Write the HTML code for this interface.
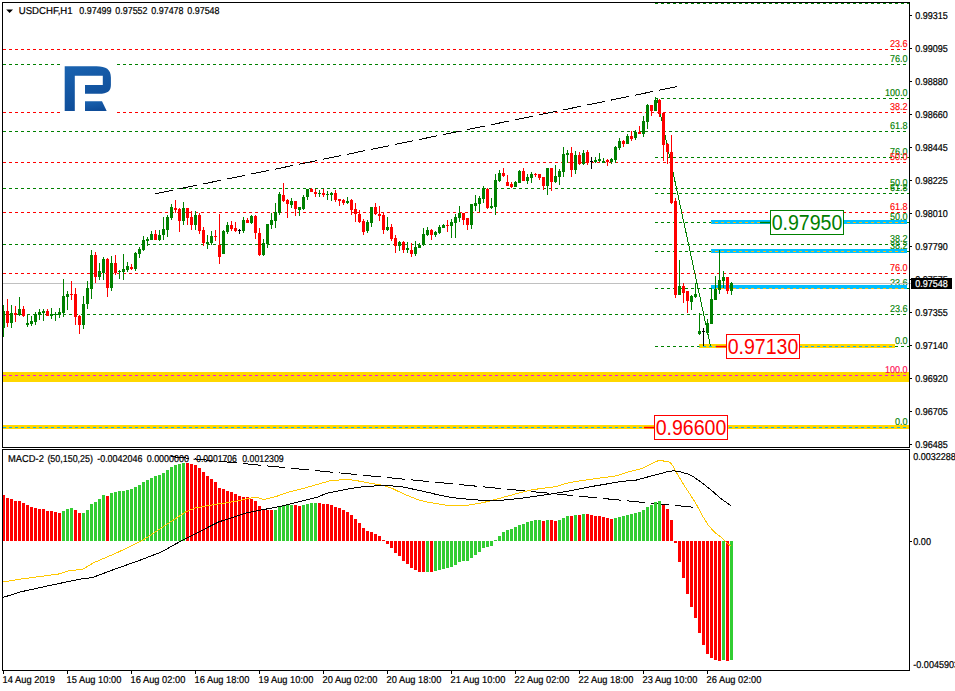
<!DOCTYPE html><html><head><meta charset="utf-8"><title>USDCHF H1</title>
<style>html,body{margin:0;padding:0;background:#fff}svg{display:block}text{font-family:"Liberation Sans",sans-serif}</style></head><body>
<svg width="955" height="691" viewBox="0 0 955 691">
<rect width="955" height="691" fill="#fff"/>
<line x1="3" y1="49.5" x2="909" y2="49.5" stroke="#ff0000" stroke-width="1" stroke-dasharray="3 3" stroke-dashoffset="0" shape-rendering="crispEdges"/>
<line x1="3" y1="112.5" x2="909" y2="112.5" stroke="#ff0000" stroke-width="1" stroke-dasharray="3 3" stroke-dashoffset="0" shape-rendering="crispEdges"/>
<line x1="3" y1="162.5" x2="909" y2="162.5" stroke="#ff0000" stroke-width="1" stroke-dasharray="3 3" stroke-dashoffset="0" shape-rendering="crispEdges"/>
<line x1="3" y1="212.5" x2="909" y2="212.5" stroke="#ff0000" stroke-width="1" stroke-dasharray="3 3" stroke-dashoffset="0" shape-rendering="crispEdges"/>
<line x1="3" y1="273.5" x2="909" y2="273.5" stroke="#ff0000" stroke-width="1" stroke-dasharray="3 3" stroke-dashoffset="0" shape-rendering="crispEdges"/>
<line x1="3" y1="64.5" x2="909" y2="64.5" stroke="#008000" stroke-width="1" stroke-dasharray="3 3" stroke-dashoffset="0" shape-rendering="crispEdges"/>
<line x1="3" y1="131.5" x2="909" y2="131.5" stroke="#008000" stroke-width="1" stroke-dasharray="3 3" stroke-dashoffset="0" shape-rendering="crispEdges"/>
<line x1="3" y1="188.5" x2="909" y2="188.5" stroke="#008000" stroke-width="1" stroke-dasharray="3 3" stroke-dashoffset="0" shape-rendering="crispEdges"/>
<line x1="3" y1="244.5" x2="909" y2="244.5" stroke="#008000" stroke-width="1" stroke-dasharray="3 3" stroke-dashoffset="0" shape-rendering="crispEdges"/>
<line x1="3" y1="314.5" x2="909" y2="314.5" stroke="#008000" stroke-width="1" stroke-dasharray="3 3" stroke-dashoffset="0" shape-rendering="crispEdges"/>
<line x1="655" y1="3.5" x2="909" y2="3.5" stroke="#008000" stroke-width="1" stroke-dasharray="3 3" stroke-dashoffset="0" shape-rendering="crispEdges"/>
<line x1="655" y1="98.5" x2="909" y2="98.5" stroke="#008000" stroke-width="1" stroke-dasharray="3 3" stroke-dashoffset="0" shape-rendering="crispEdges"/>
<line x1="655" y1="157.5" x2="909" y2="157.5" stroke="#008000" stroke-width="1" stroke-dasharray="3 3" stroke-dashoffset="0" shape-rendering="crispEdges"/>
<line x1="655" y1="193.5" x2="909" y2="193.5" stroke="#008000" stroke-width="1" stroke-dasharray="3 3" stroke-dashoffset="0" shape-rendering="crispEdges"/>
<line x1="655" y1="222.5" x2="909" y2="222.5" stroke="#008000" stroke-width="1" stroke-dasharray="3 3" stroke-dashoffset="0" shape-rendering="crispEdges"/>
<line x1="655" y1="251.5" x2="909" y2="251.5" stroke="#008000" stroke-width="1" stroke-dasharray="3 3" stroke-dashoffset="0" shape-rendering="crispEdges"/>
<line x1="655" y1="288.5" x2="909" y2="288.5" stroke="#008000" stroke-width="1" stroke-dasharray="3 3" stroke-dashoffset="0" shape-rendering="crispEdges"/>
<line x1="655" y1="346.5" x2="909" y2="346.5" stroke="#008000" stroke-width="1" stroke-dasharray="3 3" stroke-dashoffset="0" shape-rendering="crispEdges"/>
<text x="889.94" y="47" text-rendering="geometricPrecision" font-size="10" fill="#ff0000" stroke="#ff0000" stroke-width="0.14" textLength="17.66" lengthAdjust="spacingAndGlyphs" >23.6</text>
<text x="889.94" y="62" text-rendering="geometricPrecision" font-size="10" fill="#008000" stroke="#008000" stroke-width="0.14" textLength="17.66" lengthAdjust="spacingAndGlyphs" >76.0</text>
<text x="884.97" y="96" text-rendering="geometricPrecision" font-size="10" fill="#008000" stroke="#008000" stroke-width="0.14" textLength="22.63" lengthAdjust="spacingAndGlyphs" >100.0</text>
<text x="889.94" y="110" text-rendering="geometricPrecision" font-size="10" fill="#ff0000" stroke="#ff0000" stroke-width="0.14" textLength="17.66" lengthAdjust="spacingAndGlyphs" >38.2</text>
<text x="889.94" y="129" text-rendering="geometricPrecision" font-size="10" fill="#008000" stroke="#008000" stroke-width="0.14" textLength="17.66" lengthAdjust="spacingAndGlyphs" >61.8</text>
<text x="889.94" y="155" text-rendering="geometricPrecision" font-size="10" fill="#008000" stroke="#008000" stroke-width="0.14" textLength="17.66" lengthAdjust="spacingAndGlyphs" >76.0</text>
<text x="889.94" y="160" text-rendering="geometricPrecision" font-size="10" fill="#ff0000" stroke="#ff0000" stroke-width="0.14" textLength="17.66" lengthAdjust="spacingAndGlyphs" >50.0</text>
<text x="889.94" y="186" text-rendering="geometricPrecision" font-size="10" fill="#008000" stroke="#008000" stroke-width="0.14" textLength="17.66" lengthAdjust="spacingAndGlyphs" >50.0</text>
<text x="889.94" y="191" text-rendering="geometricPrecision" font-size="10" fill="#008000" stroke="#008000" stroke-width="0.14" textLength="17.66" lengthAdjust="spacingAndGlyphs" >61.8</text>
<text x="889.94" y="210" text-rendering="geometricPrecision" font-size="10" fill="#ff0000" stroke="#ff0000" stroke-width="0.14" textLength="17.66" lengthAdjust="spacingAndGlyphs" >61.8</text>
<text x="889.94" y="220" text-rendering="geometricPrecision" font-size="10" fill="#008000" stroke="#008000" stroke-width="0.14" textLength="17.66" lengthAdjust="spacingAndGlyphs" >50.0</text>
<text x="889.94" y="242" text-rendering="geometricPrecision" font-size="10" fill="#008000" stroke="#008000" stroke-width="0.14" textLength="17.66" lengthAdjust="spacingAndGlyphs" >38.2</text>
<text x="889.94" y="249" text-rendering="geometricPrecision" font-size="10" fill="#008000" stroke="#008000" stroke-width="0.14" textLength="17.66" lengthAdjust="spacingAndGlyphs" >38.2</text>
<text x="889.94" y="271" text-rendering="geometricPrecision" font-size="10" fill="#ff0000" stroke="#ff0000" stroke-width="0.14" textLength="17.66" lengthAdjust="spacingAndGlyphs" >76.0</text>
<text x="889.94" y="286" text-rendering="geometricPrecision" font-size="10" fill="#008000" stroke="#008000" stroke-width="0.14" textLength="17.66" lengthAdjust="spacingAndGlyphs" >23.6</text>
<text x="889.94" y="312" text-rendering="geometricPrecision" font-size="10" fill="#008000" stroke="#008000" stroke-width="0.14" textLength="17.66" lengthAdjust="spacingAndGlyphs" >23.6</text>
<text x="894.91" y="344" text-rendering="geometricPrecision" font-size="10" fill="#008000" stroke="#008000" stroke-width="0.14" textLength="12.69" lengthAdjust="spacingAndGlyphs" >0.0</text>
<text x="894.91" y="425" text-rendering="geometricPrecision" font-size="10" fill="#008000" stroke="#008000" stroke-width="0.14" textLength="12.69" lengthAdjust="spacingAndGlyphs" >0.0</text>
<rect x="3" y="372" width="906" height="10" fill="#ffd700" shape-rendering="crispEdges" />
<rect x="3" y="425" width="906" height="4" fill="#ffd700" shape-rendering="crispEdges" />
<rect x="699" y="344" width="196" height="4" fill="#ffd700" shape-rendering="crispEdges" />
<rect x="711" y="220" width="196" height="4" fill="#00bfff" shape-rendering="crispEdges" />
<rect x="711" y="249" width="196" height="4" fill="#00bfff" shape-rendering="crispEdges" />
<rect x="711" y="285" width="196" height="4" fill="#00bfff" shape-rendering="crispEdges" />
<line x1="3" y1="375.5" x2="907" y2="375.5" stroke="#f414e8" stroke-width="1" stroke-dasharray="3 3" stroke-dashoffset="0" shape-rendering="crispEdges"/>
<text x="884.97" y="373" text-rendering="geometricPrecision" font-size="10" fill="#ff0a50" stroke="#ff0a50" stroke-width="0.14" textLength="22.63" lengthAdjust="spacingAndGlyphs" >100.0</text>
<line x1="3" y1="427.5" x2="909" y2="427.5" stroke="#10b0f0" stroke-width="1" stroke-dasharray="3 3" stroke-dashoffset="0" shape-rendering="crispEdges"/>
<line x1="711" y1="222.5" x2="907" y2="222.5" stroke="#f2bc1c" stroke-width="1" stroke-dasharray="3 3" stroke-dashoffset="2" shape-rendering="crispEdges"/>
<line x1="711" y1="251.5" x2="907" y2="251.5" stroke="#f2bc1c" stroke-width="1" stroke-dasharray="3 3" stroke-dashoffset="2" shape-rendering="crispEdges"/>
<line x1="711" y1="288.5" x2="907" y2="288.5" stroke="#f2bc1c" stroke-width="1" stroke-dasharray="3 3" stroke-dashoffset="2" shape-rendering="crispEdges"/>
<line x1="699" y1="346.5" x2="895" y2="346.5" stroke="#10b0f0" stroke-width="1" stroke-dasharray="3 3" stroke-dashoffset="2" shape-rendering="crispEdges"/>
<rect x="3" y="283" width="908" height="1" fill="#c0c0c0" shape-rendering="crispEdges" />
<line x1="657" y1="98" x2="710.5" y2="346" stroke="#008000" stroke-width="1" shape-rendering="crispEdges"/>
<line x1="155.1" y1="193.8" x2="676.7" y2="86.6" stroke="#000" stroke-width="1" stroke-dasharray="18.6 5.9" shape-rendering="crispEdges"/>
<line x1="171.3" y1="456.6" x2="693" y2="507.2" stroke="#000" stroke-width="1" stroke-dasharray="18.2 5.91" shape-rendering="crispEdges"/>
<rect x="3" y="305" width="1" height="32" fill="#008000" shape-rendering="crispEdges" />
<rect x="2" y="311" width="3" height="17" fill="#008000" shape-rendering="crispEdges" />
<rect x="7" y="299" width="1" height="28" fill="#ff0000" shape-rendering="crispEdges" />
<rect x="6" y="311" width="3" height="12" fill="#ff0000" shape-rendering="crispEdges" />
<rect x="11" y="305" width="1" height="23" fill="#008000" shape-rendering="crispEdges" />
<rect x="10" y="313" width="3" height="10" fill="#008000" shape-rendering="crispEdges" />
<rect x="15" y="306" width="1" height="16" fill="#ff0000" shape-rendering="crispEdges" />
<rect x="14" y="313" width="3" height="2" fill="#ff0000" shape-rendering="crispEdges" />
<rect x="19" y="297" width="1" height="19" fill="#008000" shape-rendering="crispEdges" />
<rect x="18" y="309" width="3" height="6" fill="#008000" shape-rendering="crispEdges" />
<rect x="23" y="306" width="1" height="11" fill="#ff0000" shape-rendering="crispEdges" />
<rect x="22" y="309" width="3" height="7" fill="#ff0000" shape-rendering="crispEdges" />
<rect x="27" y="314" width="1" height="13" fill="#008000" shape-rendering="crispEdges" />
<rect x="26" y="323" width="3" height="2" fill="#008000" shape-rendering="crispEdges" />
<rect x="31" y="316" width="1" height="10" fill="#008000" shape-rendering="crispEdges" />
<rect x="30" y="321" width="3" height="3" fill="#008000" shape-rendering="crispEdges" />
<rect x="35" y="312" width="1" height="13" fill="#008000" shape-rendering="crispEdges" />
<rect x="34" y="314" width="3" height="8" fill="#008000" shape-rendering="crispEdges" />
<rect x="39" y="309" width="1" height="11" fill="#008000" shape-rendering="crispEdges" />
<rect x="38" y="312" width="3" height="3" fill="#008000" shape-rendering="crispEdges" />
<rect x="43" y="309" width="1" height="12" fill="#008000" shape-rendering="crispEdges" />
<rect x="42" y="311" width="3" height="2" fill="#008000" shape-rendering="crispEdges" />
<rect x="47" y="309" width="1" height="7" fill="#ff0000" shape-rendering="crispEdges" />
<rect x="46" y="311" width="3" height="5" fill="#ff0000" shape-rendering="crispEdges" />
<rect x="51" y="308" width="1" height="11" fill="#008000" shape-rendering="crispEdges" />
<rect x="50" y="314" width="3" height="2" fill="#008000" shape-rendering="crispEdges" />
<rect x="55" y="312" width="1" height="9" fill="#008000" shape-rendering="crispEdges" />
<rect x="54" y="314" width="3" height="1" fill="#008000" shape-rendering="crispEdges" />
<rect x="59" y="308" width="1" height="10" fill="#008000" shape-rendering="crispEdges" />
<rect x="58" y="312" width="3" height="3" fill="#008000" shape-rendering="crispEdges" />
<rect x="63" y="279" width="1" height="38" fill="#008000" shape-rendering="crispEdges" />
<rect x="62" y="296" width="3" height="17" fill="#008000" shape-rendering="crispEdges" />
<rect x="67" y="291" width="1" height="19" fill="#008000" shape-rendering="crispEdges" />
<rect x="66" y="294" width="3" height="3" fill="#008000" shape-rendering="crispEdges" />
<rect x="71" y="281" width="1" height="19" fill="#ff0000" shape-rendering="crispEdges" />
<rect x="70" y="294" width="3" height="1" fill="#ff0000" shape-rendering="crispEdges" />
<rect x="75" y="288" width="1" height="37" fill="#ff0000" shape-rendering="crispEdges" />
<rect x="74" y="294" width="3" height="23" fill="#ff0000" shape-rendering="crispEdges" />
<rect x="79" y="315" width="1" height="19" fill="#ff0000" shape-rendering="crispEdges" />
<rect x="78" y="316" width="3" height="9" fill="#ff0000" shape-rendering="crispEdges" />
<rect x="83" y="296" width="1" height="33" fill="#008000" shape-rendering="crispEdges" />
<rect x="82" y="304" width="3" height="21" fill="#008000" shape-rendering="crispEdges" />
<rect x="87" y="281" width="1" height="28" fill="#008000" shape-rendering="crispEdges" />
<rect x="86" y="288" width="3" height="16" fill="#008000" shape-rendering="crispEdges" />
<rect x="91" y="250" width="1" height="49" fill="#008000" shape-rendering="crispEdges" />
<rect x="90" y="255" width="3" height="34" fill="#008000" shape-rendering="crispEdges" />
<rect x="95" y="252" width="1" height="31" fill="#ff0000" shape-rendering="crispEdges" />
<rect x="94" y="255" width="3" height="22" fill="#ff0000" shape-rendering="crispEdges" />
<rect x="99" y="263" width="1" height="17" fill="#008000" shape-rendering="crispEdges" />
<rect x="98" y="271" width="3" height="6" fill="#008000" shape-rendering="crispEdges" />
<rect x="103" y="257" width="1" height="23" fill="#008000" shape-rendering="crispEdges" />
<rect x="102" y="259" width="3" height="14" fill="#008000" shape-rendering="crispEdges" />
<rect x="107" y="258" width="1" height="39" fill="#ff0000" shape-rendering="crispEdges" />
<rect x="106" y="259" width="3" height="29" fill="#ff0000" shape-rendering="crispEdges" />
<rect x="111" y="256" width="1" height="35" fill="#008000" shape-rendering="crispEdges" />
<rect x="110" y="263" width="3" height="25" fill="#008000" shape-rendering="crispEdges" />
<rect x="115" y="255" width="1" height="20" fill="#ff0000" shape-rendering="crispEdges" />
<rect x="114" y="263" width="3" height="10" fill="#ff0000" shape-rendering="crispEdges" />
<rect x="119" y="270" width="1" height="9" fill="#008000" shape-rendering="crispEdges" />
<rect x="118" y="271" width="3" height="1" fill="#008000" shape-rendering="crispEdges" />
<rect x="123" y="254" width="1" height="26" fill="#008000" shape-rendering="crispEdges" />
<rect x="122" y="269" width="3" height="3" fill="#008000" shape-rendering="crispEdges" />
<rect x="127" y="262" width="1" height="10" fill="#008000" shape-rendering="crispEdges" />
<rect x="126" y="266" width="3" height="4" fill="#008000" shape-rendering="crispEdges" />
<rect x="131" y="264" width="1" height="6" fill="#ff0000" shape-rendering="crispEdges" />
<rect x="130" y="267" width="3" height="2" fill="#ff0000" shape-rendering="crispEdges" />
<rect x="135" y="252" width="1" height="19" fill="#008000" shape-rendering="crispEdges" />
<rect x="134" y="253" width="3" height="16" fill="#008000" shape-rendering="crispEdges" />
<rect x="139" y="247" width="1" height="11" fill="#008000" shape-rendering="crispEdges" />
<rect x="138" y="249" width="3" height="5" fill="#008000" shape-rendering="crispEdges" />
<rect x="143" y="236" width="1" height="15" fill="#008000" shape-rendering="crispEdges" />
<rect x="142" y="240" width="3" height="10" fill="#008000" shape-rendering="crispEdges" />
<rect x="147" y="237" width="1" height="9" fill="#008000" shape-rendering="crispEdges" />
<rect x="146" y="239" width="3" height="2" fill="#008000" shape-rendering="crispEdges" />
<rect x="151" y="231" width="1" height="9" fill="#008000" shape-rendering="crispEdges" />
<rect x="150" y="234" width="3" height="6" fill="#008000" shape-rendering="crispEdges" />
<rect x="155" y="230" width="1" height="10" fill="#ff0000" shape-rendering="crispEdges" />
<rect x="154" y="234" width="3" height="6" fill="#ff0000" shape-rendering="crispEdges" />
<rect x="159" y="230" width="1" height="11" fill="#008000" shape-rendering="crispEdges" />
<rect x="158" y="235" width="3" height="5" fill="#008000" shape-rendering="crispEdges" />
<rect x="163" y="217" width="1" height="23" fill="#008000" shape-rendering="crispEdges" />
<rect x="162" y="229" width="3" height="6" fill="#008000" shape-rendering="crispEdges" />
<rect x="167" y="215" width="1" height="22" fill="#008000" shape-rendering="crispEdges" />
<rect x="166" y="217" width="3" height="13" fill="#008000" shape-rendering="crispEdges" />
<rect x="171" y="204" width="1" height="16" fill="#008000" shape-rendering="crispEdges" />
<rect x="170" y="207" width="3" height="11" fill="#008000" shape-rendering="crispEdges" />
<rect x="175" y="200" width="1" height="13" fill="#ff0000" shape-rendering="crispEdges" />
<rect x="174" y="208" width="3" height="2" fill="#ff0000" shape-rendering="crispEdges" />
<rect x="179" y="208" width="1" height="24" fill="#ff0000" shape-rendering="crispEdges" />
<rect x="178" y="209" width="3" height="12" fill="#ff0000" shape-rendering="crispEdges" />
<rect x="183" y="202" width="1" height="23" fill="#008000" shape-rendering="crispEdges" />
<rect x="182" y="208" width="3" height="13" fill="#008000" shape-rendering="crispEdges" />
<rect x="187" y="208" width="1" height="17" fill="#ff0000" shape-rendering="crispEdges" />
<rect x="186" y="208" width="3" height="10" fill="#ff0000" shape-rendering="crispEdges" />
<rect x="191" y="211" width="1" height="19" fill="#ff0000" shape-rendering="crispEdges" />
<rect x="190" y="217" width="3" height="8" fill="#ff0000" shape-rendering="crispEdges" />
<rect x="195" y="211" width="1" height="19" fill="#008000" shape-rendering="crispEdges" />
<rect x="194" y="215" width="3" height="10" fill="#008000" shape-rendering="crispEdges" />
<rect x="199" y="213" width="1" height="21" fill="#ff0000" shape-rendering="crispEdges" />
<rect x="198" y="215" width="3" height="16" fill="#ff0000" shape-rendering="crispEdges" />
<rect x="203" y="227" width="1" height="19" fill="#ff0000" shape-rendering="crispEdges" />
<rect x="202" y="230" width="3" height="13" fill="#ff0000" shape-rendering="crispEdges" />
<rect x="207" y="235" width="1" height="14" fill="#008000" shape-rendering="crispEdges" />
<rect x="206" y="242" width="3" height="2" fill="#008000" shape-rendering="crispEdges" />
<rect x="211" y="231" width="1" height="14" fill="#008000" shape-rendering="crispEdges" />
<rect x="210" y="236" width="3" height="7" fill="#008000" shape-rendering="crispEdges" />
<rect x="215" y="230" width="1" height="11" fill="#ff0000" shape-rendering="crispEdges" />
<rect x="214" y="236" width="3" height="1" fill="#ff0000" shape-rendering="crispEdges" />
<rect x="219" y="214" width="1" height="50" fill="#ff0000" shape-rendering="crispEdges" />
<rect x="218" y="245" width="3" height="12" fill="#ff0000" shape-rendering="crispEdges" />
<rect x="223" y="230" width="1" height="24" fill="#008000" shape-rendering="crispEdges" />
<rect x="222" y="231" width="3" height="23" fill="#008000" shape-rendering="crispEdges" />
<rect x="227" y="222" width="1" height="12" fill="#008000" shape-rendering="crispEdges" />
<rect x="226" y="225" width="3" height="7" fill="#008000" shape-rendering="crispEdges" />
<rect x="231" y="221" width="1" height="10" fill="#ff0000" shape-rendering="crispEdges" />
<rect x="230" y="225" width="3" height="4" fill="#ff0000" shape-rendering="crispEdges" />
<rect x="235" y="222" width="1" height="10" fill="#ff0000" shape-rendering="crispEdges" />
<rect x="234" y="228" width="3" height="3" fill="#ff0000" shape-rendering="crispEdges" />
<rect x="239" y="229" width="1" height="5" fill="#000" shape-rendering="crispEdges" />
<rect x="238" y="230" width="3" height="1" fill="#000" shape-rendering="crispEdges" />
<rect x="243" y="217" width="1" height="16" fill="#008000" shape-rendering="crispEdges" />
<rect x="242" y="220" width="3" height="11" fill="#008000" shape-rendering="crispEdges" />
<rect x="247" y="218" width="1" height="5" fill="#ff0000" shape-rendering="crispEdges" />
<rect x="246" y="220" width="3" height="3" fill="#ff0000" shape-rendering="crispEdges" />
<rect x="251" y="215" width="1" height="9" fill="#008000" shape-rendering="crispEdges" />
<rect x="250" y="216" width="3" height="7" fill="#008000" shape-rendering="crispEdges" />
<rect x="255" y="215" width="1" height="24" fill="#ff0000" shape-rendering="crispEdges" />
<rect x="254" y="216" width="3" height="17" fill="#ff0000" shape-rendering="crispEdges" />
<rect x="259" y="228" width="1" height="28" fill="#ff0000" shape-rendering="crispEdges" />
<rect x="258" y="233" width="3" height="22" fill="#ff0000" shape-rendering="crispEdges" />
<rect x="263" y="239" width="1" height="17" fill="#008000" shape-rendering="crispEdges" />
<rect x="262" y="243" width="3" height="12" fill="#008000" shape-rendering="crispEdges" />
<rect x="267" y="224" width="1" height="24" fill="#008000" shape-rendering="crispEdges" />
<rect x="266" y="224" width="3" height="20" fill="#008000" shape-rendering="crispEdges" />
<rect x="271" y="213" width="1" height="16" fill="#008000" shape-rendering="crispEdges" />
<rect x="270" y="220" width="3" height="5" fill="#008000" shape-rendering="crispEdges" />
<rect x="275" y="203" width="1" height="25" fill="#008000" shape-rendering="crispEdges" />
<rect x="274" y="212" width="3" height="9" fill="#008000" shape-rendering="crispEdges" />
<rect x="279" y="192" width="1" height="23" fill="#008000" shape-rendering="crispEdges" />
<rect x="278" y="194" width="3" height="19" fill="#008000" shape-rendering="crispEdges" />
<rect x="283" y="183" width="1" height="19" fill="#ff0000" shape-rendering="crispEdges" />
<rect x="282" y="195" width="3" height="6" fill="#ff0000" shape-rendering="crispEdges" />
<rect x="287" y="199" width="1" height="19" fill="#ff0000" shape-rendering="crispEdges" />
<rect x="286" y="200" width="3" height="4" fill="#ff0000" shape-rendering="crispEdges" />
<rect x="291" y="198" width="1" height="10" fill="#008000" shape-rendering="crispEdges" />
<rect x="290" y="201" width="3" height="4" fill="#008000" shape-rendering="crispEdges" />
<rect x="295" y="201" width="1" height="15" fill="#ff0000" shape-rendering="crispEdges" />
<rect x="294" y="201" width="3" height="8" fill="#ff0000" shape-rendering="crispEdges" />
<rect x="299" y="207" width="1" height="9" fill="#008000" shape-rendering="crispEdges" />
<rect x="298" y="207" width="3" height="3" fill="#008000" shape-rendering="crispEdges" />
<rect x="303" y="195" width="1" height="15" fill="#008000" shape-rendering="crispEdges" />
<rect x="302" y="197" width="3" height="12" fill="#008000" shape-rendering="crispEdges" />
<rect x="307" y="189" width="1" height="11" fill="#008000" shape-rendering="crispEdges" />
<rect x="306" y="189" width="3" height="8" fill="#008000" shape-rendering="crispEdges" />
<rect x="311" y="188" width="1" height="4" fill="#ff0000" shape-rendering="crispEdges" />
<rect x="310" y="189" width="3" height="3" fill="#ff0000" shape-rendering="crispEdges" />
<rect x="315" y="189" width="1" height="8" fill="#ff0000" shape-rendering="crispEdges" />
<rect x="314" y="192" width="3" height="2" fill="#ff0000" shape-rendering="crispEdges" />
<rect x="319" y="190" width="1" height="7" fill="#008000" shape-rendering="crispEdges" />
<rect x="318" y="193" width="3" height="1" fill="#008000" shape-rendering="crispEdges" />
<rect x="323" y="189" width="1" height="8" fill="#ff0000" shape-rendering="crispEdges" />
<rect x="322" y="193" width="3" height="2" fill="#ff0000" shape-rendering="crispEdges" />
<rect x="327" y="191" width="1" height="9" fill="#008000" shape-rendering="crispEdges" />
<rect x="326" y="194" width="3" height="1" fill="#008000" shape-rendering="crispEdges" />
<rect x="331" y="192" width="1" height="9" fill="#008000" shape-rendering="crispEdges" />
<rect x="330" y="193" width="3" height="2" fill="#008000" shape-rendering="crispEdges" />
<rect x="335" y="190" width="1" height="12" fill="#ff0000" shape-rendering="crispEdges" />
<rect x="334" y="193" width="3" height="7" fill="#ff0000" shape-rendering="crispEdges" />
<rect x="339" y="199" width="1" height="7" fill="#ff0000" shape-rendering="crispEdges" />
<rect x="338" y="199" width="3" height="2" fill="#ff0000" shape-rendering="crispEdges" />
<rect x="343" y="199" width="1" height="6" fill="#ff0000" shape-rendering="crispEdges" />
<rect x="342" y="200" width="3" height="3" fill="#ff0000" shape-rendering="crispEdges" />
<rect x="347" y="197" width="1" height="7" fill="#008000" shape-rendering="crispEdges" />
<rect x="346" y="201" width="3" height="2" fill="#008000" shape-rendering="crispEdges" />
<rect x="351" y="199" width="1" height="16" fill="#ff0000" shape-rendering="crispEdges" />
<rect x="350" y="200" width="3" height="10" fill="#ff0000" shape-rendering="crispEdges" />
<rect x="355" y="203" width="1" height="19" fill="#ff0000" shape-rendering="crispEdges" />
<rect x="354" y="209" width="3" height="5" fill="#ff0000" shape-rendering="crispEdges" />
<rect x="359" y="210" width="1" height="13" fill="#ff0000" shape-rendering="crispEdges" />
<rect x="358" y="214" width="3" height="8" fill="#ff0000" shape-rendering="crispEdges" />
<rect x="363" y="219" width="1" height="16" fill="#ff0000" shape-rendering="crispEdges" />
<rect x="362" y="221" width="3" height="11" fill="#ff0000" shape-rendering="crispEdges" />
<rect x="367" y="220" width="1" height="13" fill="#008000" shape-rendering="crispEdges" />
<rect x="366" y="222" width="3" height="9" fill="#008000" shape-rendering="crispEdges" />
<rect x="371" y="207" width="1" height="20" fill="#008000" shape-rendering="crispEdges" />
<rect x="370" y="207" width="3" height="16" fill="#008000" shape-rendering="crispEdges" />
<rect x="375" y="203" width="1" height="12" fill="#ff0000" shape-rendering="crispEdges" />
<rect x="374" y="207" width="3" height="7" fill="#ff0000" shape-rendering="crispEdges" />
<rect x="379" y="206" width="1" height="15" fill="#ff0000" shape-rendering="crispEdges" />
<rect x="378" y="214" width="3" height="2" fill="#ff0000" shape-rendering="crispEdges" />
<rect x="383" y="212" width="1" height="22" fill="#ff0000" shape-rendering="crispEdges" />
<rect x="382" y="215" width="3" height="15" fill="#ff0000" shape-rendering="crispEdges" />
<rect x="387" y="217" width="1" height="14" fill="#008000" shape-rendering="crispEdges" />
<rect x="386" y="227" width="3" height="3" fill="#008000" shape-rendering="crispEdges" />
<rect x="391" y="224" width="1" height="17" fill="#ff0000" shape-rendering="crispEdges" />
<rect x="390" y="227" width="3" height="12" fill="#ff0000" shape-rendering="crispEdges" />
<rect x="395" y="235" width="1" height="18" fill="#ff0000" shape-rendering="crispEdges" />
<rect x="394" y="238" width="3" height="8" fill="#ff0000" shape-rendering="crispEdges" />
<rect x="399" y="241" width="1" height="10" fill="#008000" shape-rendering="crispEdges" />
<rect x="398" y="242" width="3" height="4" fill="#008000" shape-rendering="crispEdges" />
<rect x="403" y="241" width="1" height="12" fill="#ff0000" shape-rendering="crispEdges" />
<rect x="402" y="242" width="3" height="8" fill="#ff0000" shape-rendering="crispEdges" />
<rect x="407" y="242" width="1" height="11" fill="#008000" shape-rendering="crispEdges" />
<rect x="406" y="248" width="3" height="2" fill="#008000" shape-rendering="crispEdges" />
<rect x="411" y="243" width="1" height="14" fill="#ff0000" shape-rendering="crispEdges" />
<rect x="410" y="250" width="3" height="4" fill="#ff0000" shape-rendering="crispEdges" />
<rect x="415" y="241" width="1" height="15" fill="#008000" shape-rendering="crispEdges" />
<rect x="414" y="247" width="3" height="7" fill="#008000" shape-rendering="crispEdges" />
<rect x="419" y="243" width="1" height="5" fill="#008000" shape-rendering="crispEdges" />
<rect x="418" y="245" width="3" height="3" fill="#008000" shape-rendering="crispEdges" />
<rect x="423" y="228" width="1" height="18" fill="#008000" shape-rendering="crispEdges" />
<rect x="422" y="234" width="3" height="11" fill="#008000" shape-rendering="crispEdges" />
<rect x="427" y="227" width="1" height="9" fill="#008000" shape-rendering="crispEdges" />
<rect x="426" y="230" width="3" height="5" fill="#008000" shape-rendering="crispEdges" />
<rect x="431" y="229" width="1" height="11" fill="#ff0000" shape-rendering="crispEdges" />
<rect x="430" y="230" width="3" height="5" fill="#ff0000" shape-rendering="crispEdges" />
<rect x="435" y="231" width="1" height="6" fill="#008000" shape-rendering="crispEdges" />
<rect x="434" y="232" width="3" height="3" fill="#008000" shape-rendering="crispEdges" />
<rect x="439" y="225" width="1" height="9" fill="#008000" shape-rendering="crispEdges" />
<rect x="438" y="227" width="3" height="6" fill="#008000" shape-rendering="crispEdges" />
<rect x="443" y="224" width="1" height="4" fill="#008000" shape-rendering="crispEdges" />
<rect x="442" y="225" width="3" height="3" fill="#008000" shape-rendering="crispEdges" />
<rect x="447" y="220" width="1" height="12" fill="#ff0000" shape-rendering="crispEdges" />
<rect x="446" y="225" width="3" height="1" fill="#ff0000" shape-rendering="crispEdges" />
<rect x="451" y="219" width="1" height="19" fill="#008000" shape-rendering="crispEdges" />
<rect x="450" y="222" width="3" height="4" fill="#008000" shape-rendering="crispEdges" />
<rect x="455" y="214" width="1" height="24" fill="#008000" shape-rendering="crispEdges" />
<rect x="454" y="217" width="3" height="6" fill="#008000" shape-rendering="crispEdges" />
<rect x="459" y="206" width="1" height="16" fill="#008000" shape-rendering="crispEdges" />
<rect x="458" y="213" width="3" height="5" fill="#008000" shape-rendering="crispEdges" />
<rect x="463" y="213" width="1" height="12" fill="#ff0000" shape-rendering="crispEdges" />
<rect x="462" y="213" width="3" height="7" fill="#ff0000" shape-rendering="crispEdges" />
<rect x="467" y="218" width="1" height="12" fill="#ff0000" shape-rendering="crispEdges" />
<rect x="466" y="218" width="3" height="7" fill="#ff0000" shape-rendering="crispEdges" />
<rect x="471" y="204" width="1" height="25" fill="#008000" shape-rendering="crispEdges" />
<rect x="470" y="204" width="3" height="21" fill="#008000" shape-rendering="crispEdges" />
<rect x="475" y="195" width="1" height="16" fill="#008000" shape-rendering="crispEdges" />
<rect x="474" y="203" width="3" height="3" fill="#008000" shape-rendering="crispEdges" />
<rect x="479" y="196" width="1" height="16" fill="#008000" shape-rendering="crispEdges" />
<rect x="478" y="198" width="3" height="6" fill="#008000" shape-rendering="crispEdges" />
<rect x="483" y="186" width="1" height="17" fill="#008000" shape-rendering="crispEdges" />
<rect x="482" y="188" width="3" height="11" fill="#008000" shape-rendering="crispEdges" />
<rect x="487" y="188" width="1" height="21" fill="#ff0000" shape-rendering="crispEdges" />
<rect x="486" y="189" width="3" height="19" fill="#ff0000" shape-rendering="crispEdges" />
<rect x="491" y="198" width="1" height="11" fill="#008000" shape-rendering="crispEdges" />
<rect x="490" y="206" width="3" height="2" fill="#008000" shape-rendering="crispEdges" />
<rect x="495" y="174" width="1" height="41" fill="#008000" shape-rendering="crispEdges" />
<rect x="494" y="180" width="3" height="27" fill="#008000" shape-rendering="crispEdges" />
<rect x="499" y="170" width="1" height="12" fill="#008000" shape-rendering="crispEdges" />
<rect x="498" y="173" width="3" height="8" fill="#008000" shape-rendering="crispEdges" />
<rect x="503" y="168" width="1" height="9" fill="#ff0000" shape-rendering="crispEdges" />
<rect x="502" y="173" width="3" height="3" fill="#ff0000" shape-rendering="crispEdges" />
<rect x="507" y="175" width="1" height="11" fill="#ff0000" shape-rendering="crispEdges" />
<rect x="506" y="182" width="3" height="4" fill="#ff0000" shape-rendering="crispEdges" />
<rect x="511" y="182" width="1" height="6" fill="#ff0000" shape-rendering="crispEdges" />
<rect x="510" y="184" width="3" height="3" fill="#ff0000" shape-rendering="crispEdges" />
<rect x="515" y="181" width="1" height="6" fill="#008000" shape-rendering="crispEdges" />
<rect x="514" y="182" width="3" height="5" fill="#008000" shape-rendering="crispEdges" />
<rect x="519" y="170" width="1" height="13" fill="#008000" shape-rendering="crispEdges" />
<rect x="518" y="171" width="3" height="12" fill="#008000" shape-rendering="crispEdges" />
<rect x="523" y="168" width="1" height="13" fill="#ff0000" shape-rendering="crispEdges" />
<rect x="522" y="171" width="3" height="10" fill="#ff0000" shape-rendering="crispEdges" />
<rect x="527" y="174" width="1" height="10" fill="#008000" shape-rendering="crispEdges" />
<rect x="526" y="177" width="3" height="4" fill="#008000" shape-rendering="crispEdges" />
<rect x="531" y="172" width="1" height="11" fill="#008000" shape-rendering="crispEdges" />
<rect x="530" y="174" width="3" height="4" fill="#008000" shape-rendering="crispEdges" />
<rect x="535" y="173" width="1" height="4" fill="#ff0000" shape-rendering="crispEdges" />
<rect x="534" y="174" width="3" height="1" fill="#ff0000" shape-rendering="crispEdges" />
<rect x="539" y="174" width="1" height="6" fill="#ff0000" shape-rendering="crispEdges" />
<rect x="538" y="174" width="3" height="4" fill="#ff0000" shape-rendering="crispEdges" />
<rect x="543" y="177" width="1" height="13" fill="#ff0000" shape-rendering="crispEdges" />
<rect x="542" y="177" width="3" height="9" fill="#ff0000" shape-rendering="crispEdges" />
<rect x="547" y="168" width="1" height="27" fill="#008000" shape-rendering="crispEdges" />
<rect x="546" y="168" width="3" height="18" fill="#008000" shape-rendering="crispEdges" />
<rect x="551" y="168" width="1" height="23" fill="#ff0000" shape-rendering="crispEdges" />
<rect x="550" y="168" width="3" height="14" fill="#ff0000" shape-rendering="crispEdges" />
<rect x="555" y="165" width="1" height="18" fill="#008000" shape-rendering="crispEdges" />
<rect x="554" y="176" width="3" height="6" fill="#008000" shape-rendering="crispEdges" />
<rect x="559" y="169" width="1" height="16" fill="#008000" shape-rendering="crispEdges" />
<rect x="558" y="171" width="3" height="6" fill="#008000" shape-rendering="crispEdges" />
<rect x="563" y="147" width="1" height="30" fill="#008000" shape-rendering="crispEdges" />
<rect x="562" y="154" width="3" height="18" fill="#008000" shape-rendering="crispEdges" />
<rect x="567" y="150" width="1" height="13" fill="#008000" shape-rendering="crispEdges" />
<rect x="566" y="153" width="3" height="2" fill="#008000" shape-rendering="crispEdges" />
<rect x="571" y="147" width="1" height="30" fill="#ff0000" shape-rendering="crispEdges" />
<rect x="570" y="153" width="3" height="17" fill="#ff0000" shape-rendering="crispEdges" />
<rect x="575" y="151" width="1" height="23" fill="#008000" shape-rendering="crispEdges" />
<rect x="574" y="155" width="3" height="15" fill="#008000" shape-rendering="crispEdges" />
<rect x="579" y="152" width="1" height="13" fill="#ff0000" shape-rendering="crispEdges" />
<rect x="578" y="155" width="3" height="9" fill="#ff0000" shape-rendering="crispEdges" />
<rect x="583" y="150" width="1" height="15" fill="#008000" shape-rendering="crispEdges" />
<rect x="582" y="153" width="3" height="11" fill="#008000" shape-rendering="crispEdges" />
<rect x="587" y="150" width="1" height="15" fill="#ff0000" shape-rendering="crispEdges" />
<rect x="586" y="152" width="3" height="11" fill="#ff0000" shape-rendering="crispEdges" />
<rect x="591" y="157" width="1" height="12" fill="#000" shape-rendering="crispEdges" />
<rect x="590" y="161" width="3" height="1" fill="#000" shape-rendering="crispEdges" />
<rect x="595" y="157" width="1" height="6" fill="#008000" shape-rendering="crispEdges" />
<rect x="594" y="160" width="3" height="2" fill="#008000" shape-rendering="crispEdges" />
<rect x="599" y="153" width="1" height="9" fill="#008000" shape-rendering="crispEdges" />
<rect x="598" y="159" width="3" height="2" fill="#008000" shape-rendering="crispEdges" />
<rect x="603" y="158" width="1" height="5" fill="#008000" shape-rendering="crispEdges" />
<rect x="602" y="161" width="3" height="2" fill="#008000" shape-rendering="crispEdges" />
<rect x="607" y="159" width="1" height="7" fill="#ff0000" shape-rendering="crispEdges" />
<rect x="606" y="160" width="3" height="2" fill="#ff0000" shape-rendering="crispEdges" />
<rect x="611" y="158" width="1" height="6" fill="#008000" shape-rendering="crispEdges" />
<rect x="610" y="159" width="3" height="3" fill="#008000" shape-rendering="crispEdges" />
<rect x="615" y="146" width="1" height="17" fill="#008000" shape-rendering="crispEdges" />
<rect x="614" y="147" width="3" height="13" fill="#008000" shape-rendering="crispEdges" />
<rect x="619" y="138" width="1" height="12" fill="#008000" shape-rendering="crispEdges" />
<rect x="618" y="141" width="3" height="7" fill="#008000" shape-rendering="crispEdges" />
<rect x="623" y="140" width="1" height="7" fill="#ff0000" shape-rendering="crispEdges" />
<rect x="622" y="141" width="3" height="3" fill="#ff0000" shape-rendering="crispEdges" />
<rect x="627" y="134" width="1" height="10" fill="#008000" shape-rendering="crispEdges" />
<rect x="626" y="136" width="3" height="8" fill="#008000" shape-rendering="crispEdges" />
<rect x="631" y="131" width="1" height="10" fill="#ff0000" shape-rendering="crispEdges" />
<rect x="630" y="136" width="3" height="3" fill="#ff0000" shape-rendering="crispEdges" />
<rect x="635" y="130" width="1" height="10" fill="#008000" shape-rendering="crispEdges" />
<rect x="634" y="132" width="3" height="6" fill="#008000" shape-rendering="crispEdges" />
<rect x="639" y="126" width="1" height="8" fill="#ff0000" shape-rendering="crispEdges" />
<rect x="638" y="132" width="3" height="2" fill="#ff0000" shape-rendering="crispEdges" />
<rect x="643" y="116" width="1" height="21" fill="#008000" shape-rendering="crispEdges" />
<rect x="642" y="121" width="3" height="13" fill="#008000" shape-rendering="crispEdges" />
<rect x="647" y="104" width="1" height="25" fill="#008000" shape-rendering="crispEdges" />
<rect x="646" y="105" width="3" height="17" fill="#008000" shape-rendering="crispEdges" />
<rect x="651" y="105" width="1" height="11" fill="#ff0000" shape-rendering="crispEdges" />
<rect x="650" y="105" width="3" height="6" fill="#ff0000" shape-rendering="crispEdges" />
<rect x="655" y="97" width="1" height="14" fill="#008000" shape-rendering="crispEdges" />
<rect x="654" y="100" width="3" height="11" fill="#008000" shape-rendering="crispEdges" />
<rect x="659" y="99" width="1" height="18" fill="#ff0000" shape-rendering="crispEdges" />
<rect x="658" y="100" width="3" height="14" fill="#ff0000" shape-rendering="crispEdges" />
<rect x="663" y="112" width="1" height="49" fill="#ff0000" shape-rendering="crispEdges" />
<rect x="662" y="113" width="3" height="32" fill="#ff0000" shape-rendering="crispEdges" />
<rect x="667" y="143" width="1" height="21" fill="#ff0000" shape-rendering="crispEdges" />
<rect x="666" y="144" width="3" height="8" fill="#ff0000" shape-rendering="crispEdges" />
<rect x="671" y="135" width="1" height="69" fill="#ff0000" shape-rendering="crispEdges" />
<rect x="670" y="152" width="3" height="51" fill="#ff0000" shape-rendering="crispEdges" />
<rect x="675" y="198" width="1" height="100" fill="#ff0000" shape-rendering="crispEdges" />
<rect x="674" y="201" width="3" height="94" fill="#ff0000" shape-rendering="crispEdges" />
<rect x="679" y="260" width="1" height="35" fill="#008000" shape-rendering="crispEdges" />
<rect x="678" y="286" width="3" height="9" fill="#008000" shape-rendering="crispEdges" />
<rect x="683" y="283" width="1" height="20" fill="#ff0000" shape-rendering="crispEdges" />
<rect x="682" y="286" width="3" height="7" fill="#ff0000" shape-rendering="crispEdges" />
<rect x="687" y="291" width="1" height="22" fill="#ff0000" shape-rendering="crispEdges" />
<rect x="686" y="291" width="3" height="10" fill="#ff0000" shape-rendering="crispEdges" />
<rect x="691" y="295" width="1" height="15" fill="#008000" shape-rendering="crispEdges" />
<rect x="690" y="296" width="3" height="6" fill="#008000" shape-rendering="crispEdges" />
<rect x="695" y="283" width="1" height="15" fill="#008000" shape-rendering="crispEdges" />
<rect x="694" y="294" width="3" height="3" fill="#008000" shape-rendering="crispEdges" />
<rect x="699" y="313" width="1" height="22" fill="#008000" shape-rendering="crispEdges" />
<rect x="698" y="331" width="3" height="3" fill="#008000" shape-rendering="crispEdges" />
<rect x="703" y="328" width="1" height="18" fill="#000" shape-rendering="crispEdges" />
<rect x="702" y="331" width="3" height="1" fill="#000" shape-rendering="crispEdges" />
<rect x="707" y="319" width="1" height="14" fill="#008000" shape-rendering="crispEdges" />
<rect x="706" y="323" width="3" height="10" fill="#008000" shape-rendering="crispEdges" />
<rect x="711" y="288" width="1" height="36" fill="#008000" shape-rendering="crispEdges" />
<rect x="710" y="299" width="3" height="25" fill="#008000" shape-rendering="crispEdges" />
<rect x="715" y="276" width="1" height="24" fill="#008000" shape-rendering="crispEdges" />
<rect x="714" y="289" width="3" height="11" fill="#008000" shape-rendering="crispEdges" />
<rect x="719" y="250" width="1" height="44" fill="#008000" shape-rendering="crispEdges" />
<rect x="718" y="280" width="3" height="10" fill="#008000" shape-rendering="crispEdges" />
<rect x="723" y="271" width="1" height="17" fill="#008000" shape-rendering="crispEdges" />
<rect x="722" y="277" width="3" height="4" fill="#008000" shape-rendering="crispEdges" />
<rect x="727" y="277" width="1" height="17" fill="#ff0000" shape-rendering="crispEdges" />
<rect x="726" y="277" width="3" height="14" fill="#ff0000" shape-rendering="crispEdges" />
<rect x="731" y="282" width="1" height="13" fill="#008000" shape-rendering="crispEdges" />
<rect x="730" y="283" width="3" height="8" fill="#008000" shape-rendering="crispEdges" />
<rect x="60" y="58" width="57" height="60" fill="#fff" shape-rendering="crispEdges" />
<defs><linearGradient id="lg" x1="0" y1="0" x2="0.35" y2="1"><stop offset="0" stop-color="#1a63b0"/><stop offset="1" stop-color="#0e4c98"/></linearGradient></defs>
<path fill="url(#lg)" d="M64.7 66.3 H96.5 C106 66.3 110.9 69.5 110.9 77.5 V85 C110.9 91 107.5 93.8 99 93.8 H85 V85 H102.8 V75.8 H74.8 V111 H64.7 Z"/>
<path fill="url(#lg)" d="M85 101.3 H102 L106.7 111 H85 Z"/>
<rect x="760" y="221.8" width="10" height="1.5" fill="#008000"/>
<rect x="770.5" y="210.5" width="73" height="24" fill="#fff" stroke="#008000" stroke-width="1" shape-rendering="crispEdges"/>
<text transform="translate(807.0 229.5) scale(0.87 1)" font-size="22.5" fill="#008000" text-anchor="middle">0.97950</text>
<rect x="716" y="345.8" width="10" height="1.5" fill="#ff0000"/>
<rect x="726.5" y="334.5" width="73" height="24" fill="#fff" stroke="#ff0000" stroke-width="1" shape-rendering="crispEdges"/>
<text transform="translate(763.0 353.5) scale(0.87 1)" font-size="22.5" fill="#ff0000" text-anchor="middle">0.97130</text>
<rect x="644" y="426.8" width="10" height="1.5" fill="#ff0000"/>
<rect x="654.5" y="415.5" width="73" height="24" fill="#fff" stroke="#ff0000" stroke-width="1" shape-rendering="crispEdges"/>
<text transform="translate(691.0 434.5) scale(0.87 1)" font-size="22.5" fill="#ff0000" text-anchor="middle">0.96600</text>
<rect x="910" y="15" width="2" height="1" fill="#000" shape-rendering="crispEdges" />
<text x="915.3" y="19" text-rendering="geometricPrecision" font-size="10" fill="#000" stroke="#000" stroke-width="0.22" textLength="32.57" lengthAdjust="spacingAndGlyphs" >0.99315</text>
<rect x="910" y="48" width="2" height="1" fill="#000" shape-rendering="crispEdges" />
<text x="915.3" y="52" text-rendering="geometricPrecision" font-size="10" fill="#000" stroke="#000" stroke-width="0.22" textLength="32.57" lengthAdjust="spacingAndGlyphs" >0.99095</text>
<rect x="910" y="81" width="2" height="1" fill="#000" shape-rendering="crispEdges" />
<text x="915.3" y="85" text-rendering="geometricPrecision" font-size="10" fill="#000" stroke="#000" stroke-width="0.22" textLength="32.57" lengthAdjust="spacingAndGlyphs" >0.98880</text>
<rect x="910" y="114" width="2" height="1" fill="#000" shape-rendering="crispEdges" />
<text x="915.3" y="118" text-rendering="geometricPrecision" font-size="10" fill="#000" stroke="#000" stroke-width="0.22" textLength="32.57" lengthAdjust="spacingAndGlyphs" >0.98660</text>
<rect x="910" y="147" width="2" height="1" fill="#000" shape-rendering="crispEdges" />
<text x="915.3" y="151" text-rendering="geometricPrecision" font-size="10" fill="#000" stroke="#000" stroke-width="0.22" textLength="32.57" lengthAdjust="spacingAndGlyphs" >0.98445</text>
<rect x="910" y="180" width="2" height="1" fill="#000" shape-rendering="crispEdges" />
<text x="915.3" y="184" text-rendering="geometricPrecision" font-size="10" fill="#000" stroke="#000" stroke-width="0.22" textLength="32.57" lengthAdjust="spacingAndGlyphs" >0.98225</text>
<rect x="910" y="213" width="2" height="1" fill="#000" shape-rendering="crispEdges" />
<text x="915.3" y="217" text-rendering="geometricPrecision" font-size="10" fill="#000" stroke="#000" stroke-width="0.22" textLength="32.57" lengthAdjust="spacingAndGlyphs" >0.98010</text>
<rect x="910" y="246" width="2" height="1" fill="#000" shape-rendering="crispEdges" />
<text x="915.3" y="250" text-rendering="geometricPrecision" font-size="10" fill="#000" stroke="#000" stroke-width="0.22" textLength="32.57" lengthAdjust="spacingAndGlyphs" >0.97790</text>
<rect x="910" y="279" width="2" height="1" fill="#000" shape-rendering="crispEdges" />
<text x="915.3" y="283" text-rendering="geometricPrecision" font-size="10" fill="#000" stroke="#000" stroke-width="0.22" textLength="32.57" lengthAdjust="spacingAndGlyphs" >0.97575</text>
<rect x="910" y="312" width="2" height="1" fill="#000" shape-rendering="crispEdges" />
<text x="915.3" y="316" text-rendering="geometricPrecision" font-size="10" fill="#000" stroke="#000" stroke-width="0.22" textLength="32.57" lengthAdjust="spacingAndGlyphs" >0.97355</text>
<rect x="910" y="345" width="2" height="1" fill="#000" shape-rendering="crispEdges" />
<text x="915.3" y="349" text-rendering="geometricPrecision" font-size="10" fill="#000" stroke="#000" stroke-width="0.22" textLength="32.57" lengthAdjust="spacingAndGlyphs" >0.97140</text>
<rect x="910" y="378" width="2" height="1" fill="#000" shape-rendering="crispEdges" />
<text x="915.3" y="382" text-rendering="geometricPrecision" font-size="10" fill="#000" stroke="#000" stroke-width="0.22" textLength="32.57" lengthAdjust="spacingAndGlyphs" >0.96920</text>
<rect x="910" y="411" width="2" height="1" fill="#000" shape-rendering="crispEdges" />
<text x="915.3" y="415" text-rendering="geometricPrecision" font-size="10" fill="#000" stroke="#000" stroke-width="0.22" textLength="32.57" lengthAdjust="spacingAndGlyphs" >0.96705</text>
<rect x="910" y="444" width="2" height="1" fill="#000" shape-rendering="crispEdges" />
<text x="915.3" y="448" text-rendering="geometricPrecision" font-size="10" fill="#000" stroke="#000" stroke-width="0.22" textLength="32.57" lengthAdjust="spacingAndGlyphs" >0.96485</text>
<rect x="911" y="278" width="41" height="11" fill="#000" shape-rendering="crispEdges" />
<text x="915.3" y="287" text-rendering="geometricPrecision" font-size="10" fill="#fff" stroke="#fff" stroke-width="0.22" textLength="32.57" lengthAdjust="spacingAndGlyphs" >0.97548</text>
<rect x="2" y="495" width="3" height="46" fill="#ff0000" shape-rendering="crispEdges" />
<rect x="6" y="498" width="3" height="43" fill="#ff0000" shape-rendering="crispEdges" />
<rect x="10" y="499" width="3" height="42" fill="#ff0000" shape-rendering="crispEdges" />
<rect x="14" y="501" width="3" height="40" fill="#ff0000" shape-rendering="crispEdges" />
<rect x="18" y="501" width="3" height="40" fill="#ff0000" shape-rendering="crispEdges" />
<rect x="22" y="503" width="3" height="38" fill="#ff0000" shape-rendering="crispEdges" />
<rect x="26" y="505" width="3" height="36" fill="#ff0000" shape-rendering="crispEdges" />
<rect x="30" y="507" width="3" height="34" fill="#ff0000" shape-rendering="crispEdges" />
<rect x="34" y="508" width="3" height="33" fill="#ff0000" shape-rendering="crispEdges" />
<rect x="38" y="509" width="3" height="32" fill="#ff0000" shape-rendering="crispEdges" />
<rect x="42" y="509" width="3" height="32" fill="#ff0000" shape-rendering="crispEdges" />
<rect x="46" y="511" width="3" height="30" fill="#ff0000" shape-rendering="crispEdges" />
<rect x="50" y="511" width="3" height="30" fill="#ff0000" shape-rendering="crispEdges" />
<rect x="54" y="512" width="3" height="29" fill="#ff0000" shape-rendering="crispEdges" />
<rect x="58" y="513" width="3" height="28" fill="#ff0000" shape-rendering="crispEdges" />
<rect x="62" y="511" width="3" height="30" fill="#32cd32" shape-rendering="crispEdges" />
<rect x="66" y="509" width="3" height="32" fill="#32cd32" shape-rendering="crispEdges" />
<rect x="70" y="508" width="3" height="33" fill="#32cd32" shape-rendering="crispEdges" />
<rect x="74" y="510" width="3" height="31" fill="#ff0000" shape-rendering="crispEdges" />
<rect x="78" y="513" width="3" height="28" fill="#ff0000" shape-rendering="crispEdges" />
<rect x="82" y="513" width="3" height="28" fill="#32cd32" shape-rendering="crispEdges" />
<rect x="86" y="510" width="3" height="31" fill="#32cd32" shape-rendering="crispEdges" />
<rect x="90" y="504" width="3" height="37" fill="#32cd32" shape-rendering="crispEdges" />
<rect x="94" y="502" width="3" height="39" fill="#32cd32" shape-rendering="crispEdges" />
<rect x="98" y="499" width="3" height="42" fill="#32cd32" shape-rendering="crispEdges" />
<rect x="102" y="495" width="3" height="46" fill="#32cd32" shape-rendering="crispEdges" />
<rect x="106" y="496" width="3" height="45" fill="#ff0000" shape-rendering="crispEdges" />
<rect x="110" y="493" width="3" height="48" fill="#32cd32" shape-rendering="crispEdges" />
<rect x="114" y="492" width="3" height="49" fill="#32cd32" shape-rendering="crispEdges" />
<rect x="118" y="491" width="3" height="50" fill="#32cd32" shape-rendering="crispEdges" />
<rect x="122" y="491" width="3" height="50" fill="#32cd32" shape-rendering="crispEdges" />
<rect x="126" y="490" width="3" height="51" fill="#32cd32" shape-rendering="crispEdges" />
<rect x="130" y="489" width="3" height="52" fill="#32cd32" shape-rendering="crispEdges" />
<rect x="134" y="487" width="3" height="54" fill="#32cd32" shape-rendering="crispEdges" />
<rect x="138" y="485" width="3" height="56" fill="#32cd32" shape-rendering="crispEdges" />
<rect x="142" y="482" width="3" height="59" fill="#32cd32" shape-rendering="crispEdges" />
<rect x="146" y="480" width="3" height="61" fill="#32cd32" shape-rendering="crispEdges" />
<rect x="150" y="478" width="3" height="63" fill="#32cd32" shape-rendering="crispEdges" />
<rect x="154" y="476" width="3" height="65" fill="#32cd32" shape-rendering="crispEdges" />
<rect x="158" y="475" width="3" height="66" fill="#32cd32" shape-rendering="crispEdges" />
<rect x="162" y="473" width="3" height="68" fill="#32cd32" shape-rendering="crispEdges" />
<rect x="166" y="470" width="3" height="71" fill="#32cd32" shape-rendering="crispEdges" />
<rect x="170" y="467" width="3" height="74" fill="#32cd32" shape-rendering="crispEdges" />
<rect x="174" y="465" width="3" height="76" fill="#32cd32" shape-rendering="crispEdges" />
<rect x="178" y="464" width="3" height="77" fill="#32cd32" shape-rendering="crispEdges" />
<rect x="182" y="463" width="3" height="78" fill="#32cd32" shape-rendering="crispEdges" />
<rect x="186" y="463" width="3" height="78" fill="#ff0000" shape-rendering="crispEdges" />
<rect x="190" y="464" width="3" height="77" fill="#ff0000" shape-rendering="crispEdges" />
<rect x="194" y="465" width="3" height="76" fill="#ff0000" shape-rendering="crispEdges" />
<rect x="198" y="468" width="3" height="73" fill="#ff0000" shape-rendering="crispEdges" />
<rect x="202" y="472" width="3" height="69" fill="#ff0000" shape-rendering="crispEdges" />
<rect x="206" y="476" width="3" height="65" fill="#ff0000" shape-rendering="crispEdges" />
<rect x="210" y="479" width="3" height="62" fill="#ff0000" shape-rendering="crispEdges" />
<rect x="214" y="482" width="3" height="59" fill="#ff0000" shape-rendering="crispEdges" />
<rect x="218" y="488" width="3" height="53" fill="#ff0000" shape-rendering="crispEdges" />
<rect x="222" y="489" width="3" height="52" fill="#ff0000" shape-rendering="crispEdges" />
<rect x="226" y="491" width="3" height="50" fill="#ff0000" shape-rendering="crispEdges" />
<rect x="230" y="492" width="3" height="49" fill="#ff0000" shape-rendering="crispEdges" />
<rect x="234" y="494" width="3" height="47" fill="#ff0000" shape-rendering="crispEdges" />
<rect x="238" y="496" width="3" height="45" fill="#ff0000" shape-rendering="crispEdges" />
<rect x="242" y="497" width="3" height="44" fill="#ff0000" shape-rendering="crispEdges" />
<rect x="246" y="497" width="3" height="44" fill="#ff0000" shape-rendering="crispEdges" />
<rect x="250" y="499" width="3" height="42" fill="#ff0000" shape-rendering="crispEdges" />
<rect x="254" y="501" width="3" height="40" fill="#ff0000" shape-rendering="crispEdges" />
<rect x="258" y="506" width="3" height="35" fill="#ff0000" shape-rendering="crispEdges" />
<rect x="262" y="509" width="3" height="32" fill="#ff0000" shape-rendering="crispEdges" />
<rect x="266" y="510" width="3" height="31" fill="#ff0000" shape-rendering="crispEdges" />
<rect x="270" y="510" width="3" height="31" fill="#ff0000" shape-rendering="crispEdges" />
<rect x="274" y="510" width="3" height="31" fill="#32cd32" shape-rendering="crispEdges" />
<rect x="278" y="507" width="3" height="34" fill="#32cd32" shape-rendering="crispEdges" />
<rect x="282" y="506" width="3" height="35" fill="#32cd32" shape-rendering="crispEdges" />
<rect x="286" y="505" width="3" height="36" fill="#32cd32" shape-rendering="crispEdges" />
<rect x="290" y="505" width="3" height="36" fill="#32cd32" shape-rendering="crispEdges" />
<rect x="294" y="505" width="3" height="36" fill="#ff0000" shape-rendering="crispEdges" />
<rect x="298" y="506" width="3" height="35" fill="#ff0000" shape-rendering="crispEdges" />
<rect x="302" y="505" width="3" height="36" fill="#32cd32" shape-rendering="crispEdges" />
<rect x="306" y="504" width="3" height="37" fill="#32cd32" shape-rendering="crispEdges" />
<rect x="310" y="503" width="3" height="38" fill="#32cd32" shape-rendering="crispEdges" />
<rect x="314" y="503" width="3" height="38" fill="#32cd32" shape-rendering="crispEdges" />
<rect x="318" y="503" width="3" height="38" fill="#ff0000" shape-rendering="crispEdges" />
<rect x="322" y="504" width="3" height="37" fill="#ff0000" shape-rendering="crispEdges" />
<rect x="326" y="504" width="3" height="37" fill="#ff0000" shape-rendering="crispEdges" />
<rect x="330" y="505" width="3" height="36" fill="#ff0000" shape-rendering="crispEdges" />
<rect x="334" y="507" width="3" height="34" fill="#ff0000" shape-rendering="crispEdges" />
<rect x="338" y="508" width="3" height="33" fill="#ff0000" shape-rendering="crispEdges" />
<rect x="342" y="510" width="3" height="31" fill="#ff0000" shape-rendering="crispEdges" />
<rect x="346" y="512" width="3" height="29" fill="#ff0000" shape-rendering="crispEdges" />
<rect x="350" y="515" width="3" height="26" fill="#ff0000" shape-rendering="crispEdges" />
<rect x="354" y="519" width="3" height="22" fill="#ff0000" shape-rendering="crispEdges" />
<rect x="358" y="523" width="3" height="18" fill="#ff0000" shape-rendering="crispEdges" />
<rect x="362" y="528" width="3" height="13" fill="#ff0000" shape-rendering="crispEdges" />
<rect x="366" y="531" width="3" height="10" fill="#ff0000" shape-rendering="crispEdges" />
<rect x="370" y="532" width="3" height="9" fill="#ff0000" shape-rendering="crispEdges" />
<rect x="374" y="534" width="3" height="7" fill="#ff0000" shape-rendering="crispEdges" />
<rect x="378" y="536" width="3" height="5" fill="#ff0000" shape-rendering="crispEdges" />
<rect x="382" y="540" width="3" height="1" fill="#ff0000" shape-rendering="crispEdges" />
<rect x="386" y="541" width="3" height="3" fill="#ff0000" shape-rendering="crispEdges" />
<rect x="390" y="541" width="3" height="7" fill="#ff0000" shape-rendering="crispEdges" />
<rect x="394" y="541" width="3" height="12" fill="#ff0000" shape-rendering="crispEdges" />
<rect x="398" y="541" width="3" height="15" fill="#ff0000" shape-rendering="crispEdges" />
<rect x="402" y="541" width="3" height="20" fill="#ff0000" shape-rendering="crispEdges" />
<rect x="406" y="541" width="3" height="23" fill="#ff0000" shape-rendering="crispEdges" />
<rect x="410" y="541" width="3" height="27" fill="#ff0000" shape-rendering="crispEdges" />
<rect x="414" y="541" width="3" height="29" fill="#ff0000" shape-rendering="crispEdges" />
<rect x="418" y="541" width="3" height="31" fill="#ff0000" shape-rendering="crispEdges" />
<rect x="422" y="541" width="3" height="31" fill="#ff0000" shape-rendering="crispEdges" />
<rect x="426" y="541" width="3" height="31" fill="#32cd32" shape-rendering="crispEdges" />
<rect x="430" y="541" width="3" height="31" fill="#ff0000" shape-rendering="crispEdges" />
<rect x="434" y="541" width="3" height="30" fill="#32cd32" shape-rendering="crispEdges" />
<rect x="438" y="541" width="3" height="29" fill="#32cd32" shape-rendering="crispEdges" />
<rect x="442" y="541" width="3" height="28" fill="#32cd32" shape-rendering="crispEdges" />
<rect x="446" y="541" width="3" height="27" fill="#32cd32" shape-rendering="crispEdges" />
<rect x="450" y="541" width="3" height="26" fill="#32cd32" shape-rendering="crispEdges" />
<rect x="454" y="541" width="3" height="24" fill="#32cd32" shape-rendering="crispEdges" />
<rect x="458" y="541" width="3" height="21" fill="#32cd32" shape-rendering="crispEdges" />
<rect x="462" y="541" width="3" height="20" fill="#32cd32" shape-rendering="crispEdges" />
<rect x="466" y="541" width="3" height="20" fill="#32cd32" shape-rendering="crispEdges" />
<rect x="470" y="541" width="3" height="17" fill="#32cd32" shape-rendering="crispEdges" />
<rect x="474" y="541" width="3" height="14" fill="#32cd32" shape-rendering="crispEdges" />
<rect x="478" y="541" width="3" height="11" fill="#32cd32" shape-rendering="crispEdges" />
<rect x="482" y="541" width="3" height="7" fill="#32cd32" shape-rendering="crispEdges" />
<rect x="486" y="541" width="3" height="6" fill="#32cd32" shape-rendering="crispEdges" />
<rect x="490" y="541" width="3" height="5" fill="#32cd32" shape-rendering="crispEdges" />
<rect x="494" y="540" width="3" height="1" fill="#32cd32" shape-rendering="crispEdges" />
<rect x="498" y="536" width="3" height="5" fill="#32cd32" shape-rendering="crispEdges" />
<rect x="502" y="532" width="3" height="9" fill="#32cd32" shape-rendering="crispEdges" />
<rect x="506" y="530" width="3" height="11" fill="#32cd32" shape-rendering="crispEdges" />
<rect x="510" y="529" width="3" height="12" fill="#32cd32" shape-rendering="crispEdges" />
<rect x="514" y="527" width="3" height="14" fill="#32cd32" shape-rendering="crispEdges" />
<rect x="518" y="525" width="3" height="16" fill="#32cd32" shape-rendering="crispEdges" />
<rect x="522" y="524" width="3" height="17" fill="#32cd32" shape-rendering="crispEdges" />
<rect x="526" y="522" width="3" height="19" fill="#32cd32" shape-rendering="crispEdges" />
<rect x="530" y="521" width="3" height="20" fill="#32cd32" shape-rendering="crispEdges" />
<rect x="534" y="520" width="3" height="21" fill="#32cd32" shape-rendering="crispEdges" />
<rect x="538" y="520" width="3" height="21" fill="#32cd32" shape-rendering="crispEdges" />
<rect x="542" y="521" width="3" height="20" fill="#ff0000" shape-rendering="crispEdges" />
<rect x="546" y="520" width="3" height="21" fill="#32cd32" shape-rendering="crispEdges" />
<rect x="550" y="520" width="3" height="21" fill="#ff0000" shape-rendering="crispEdges" />
<rect x="554" y="521" width="3" height="20" fill="#ff0000" shape-rendering="crispEdges" />
<rect x="558" y="520" width="3" height="21" fill="#32cd32" shape-rendering="crispEdges" />
<rect x="562" y="518" width="3" height="23" fill="#32cd32" shape-rendering="crispEdges" />
<rect x="566" y="516" width="3" height="25" fill="#32cd32" shape-rendering="crispEdges" />
<rect x="570" y="516" width="3" height="25" fill="#ff0000" shape-rendering="crispEdges" />
<rect x="574" y="515" width="3" height="26" fill="#32cd32" shape-rendering="crispEdges" />
<rect x="578" y="515" width="3" height="26" fill="#ff0000" shape-rendering="crispEdges" />
<rect x="582" y="514" width="3" height="27" fill="#32cd32" shape-rendering="crispEdges" />
<rect x="586" y="514" width="3" height="27" fill="#ff0000" shape-rendering="crispEdges" />
<rect x="590" y="515" width="3" height="26" fill="#ff0000" shape-rendering="crispEdges" />
<rect x="594" y="516" width="3" height="25" fill="#ff0000" shape-rendering="crispEdges" />
<rect x="598" y="516" width="3" height="25" fill="#ff0000" shape-rendering="crispEdges" />
<rect x="602" y="517" width="3" height="24" fill="#ff0000" shape-rendering="crispEdges" />
<rect x="606" y="518" width="3" height="23" fill="#ff0000" shape-rendering="crispEdges" />
<rect x="610" y="519" width="3" height="22" fill="#ff0000" shape-rendering="crispEdges" />
<rect x="614" y="518" width="3" height="23" fill="#32cd32" shape-rendering="crispEdges" />
<rect x="618" y="517" width="3" height="24" fill="#32cd32" shape-rendering="crispEdges" />
<rect x="622" y="516" width="3" height="25" fill="#32cd32" shape-rendering="crispEdges" />
<rect x="626" y="515" width="3" height="26" fill="#32cd32" shape-rendering="crispEdges" />
<rect x="630" y="514" width="3" height="27" fill="#32cd32" shape-rendering="crispEdges" />
<rect x="634" y="513" width="3" height="28" fill="#32cd32" shape-rendering="crispEdges" />
<rect x="638" y="512" width="3" height="29" fill="#32cd32" shape-rendering="crispEdges" />
<rect x="642" y="510" width="3" height="31" fill="#32cd32" shape-rendering="crispEdges" />
<rect x="646" y="507" width="3" height="34" fill="#32cd32" shape-rendering="crispEdges" />
<rect x="650" y="505" width="3" height="36" fill="#32cd32" shape-rendering="crispEdges" />
<rect x="654" y="502" width="3" height="39" fill="#32cd32" shape-rendering="crispEdges" />
<rect x="658" y="501" width="3" height="40" fill="#32cd32" shape-rendering="crispEdges" />
<rect x="662" y="505" width="3" height="36" fill="#ff0000" shape-rendering="crispEdges" />
<rect x="666" y="509" width="3" height="32" fill="#ff0000" shape-rendering="crispEdges" />
<rect x="670" y="520" width="3" height="21" fill="#ff0000" shape-rendering="crispEdges" />
<rect x="674" y="541" width="3" height="2" fill="#ff0000" shape-rendering="crispEdges" />
<rect x="678" y="541" width="3" height="21" fill="#ff0000" shape-rendering="crispEdges" />
<rect x="682" y="541" width="3" height="37" fill="#ff0000" shape-rendering="crispEdges" />
<rect x="686" y="541" width="3" height="53" fill="#ff0000" shape-rendering="crispEdges" />
<rect x="690" y="541" width="3" height="66" fill="#ff0000" shape-rendering="crispEdges" />
<rect x="694" y="541" width="3" height="77" fill="#ff0000" shape-rendering="crispEdges" />
<rect x="698" y="541" width="3" height="92" fill="#ff0000" shape-rendering="crispEdges" />
<rect x="702" y="541" width="3" height="104" fill="#ff0000" shape-rendering="crispEdges" />
<rect x="706" y="541" width="3" height="113" fill="#ff0000" shape-rendering="crispEdges" />
<rect x="710" y="541" width="3" height="117" fill="#ff0000" shape-rendering="crispEdges" />
<rect x="714" y="541" width="3" height="119" fill="#ff0000" shape-rendering="crispEdges" />
<rect x="718" y="541" width="3" height="120" fill="#ff0000" shape-rendering="crispEdges" />
<rect x="722" y="541" width="3" height="119" fill="#32cd32" shape-rendering="crispEdges" />
<rect x="726" y="541" width="3" height="120" fill="#ff0000" shape-rendering="crispEdges" />
<rect x="730" y="541" width="3" height="119" fill="#32cd32" shape-rendering="crispEdges" />
<polyline fill="none" stroke="#ffc800" stroke-width="1" stroke-linejoin="round" shape-rendering="crispEdges" points="3,581.9 19.9,579.2 58.6,574 70.2,570.2 81.7,569.8 94.2,562.5 117.3,552.6 142.4,540.5 185.5,512 195,508 213.8,504.7 237.4,501 255.4,497 264,499.5 276.6,496.3 290,491.6 300.4,489.2 330.3,480.7 347.5,479.4 358.5,481 371,483.4 383.7,485.4 393,488.8 405.6,494.8 418.2,499.8 429.4,502.5 446.7,505.3 467,505.3 482.8,502.7 495.4,499.5 514.2,494.3 533,489.6 556.6,486.5 566,483.4 579.9,480.8 615.7,475.9 630,471.5 637.2,469.7 643,468.2 650.3,464.3 657.5,461 660.4,460.4 664,461.1 667.9,461.4 670.5,462.9 672.7,465.8 676.3,472.3 680.7,479.5 685,486.7 690.8,495.4 696.6,504.8 702.4,515.7 708.2,525.1 713.9,531.6 721.2,537.4 726.3,542.5 730.6,545.8"/>
<polyline fill="none" stroke="#000" stroke-width="1" stroke-linejoin="round" shape-rendering="crispEdges" points="3,597.4 20.9,591.8 52.4,584.9 81.7,578.8 92.1,577.7 113.1,569.8 142.4,559.3 161.3,552 180.1,541.5 218.5,522 246.8,512.8 280,506.4 300.4,501.4 317.7,497 327,493.2 349,488.8 366.4,486.2 386.8,485.7 399.4,486.3 413.5,489.2 430,492.8 435.7,494.3 451.4,497.5 473.4,499.8 492.2,500.6 508,499.8 526.8,497.5 548.8,494.3 570,490.9 589.8,486.8 619.7,481.8 630,480.5 635.8,480.2 644.5,477.8 658.9,474 669.1,471.3 673.4,470.8 679.2,471.5 687.9,474 693.7,476.9 702.4,483.1 711,489.9 719.7,497.6 730.6,505.6"/>
<rect x="2" y="2" width="908" height="1" fill="#000" shape-rendering="crispEdges" />
<rect x="2" y="2" width="1" height="669" fill="#000" shape-rendering="crispEdges" />
<rect x="909" y="2" width="1" height="669" fill="#000" shape-rendering="crispEdges" />
<rect x="2" y="447" width="908" height="1" fill="#000" shape-rendering="crispEdges" />
<rect x="2" y="449" width="908" height="1" fill="#000" shape-rendering="crispEdges" />
<rect x="2" y="670" width="908" height="1" fill="#000" shape-rendering="crispEdges" />
<rect x="2" y="448" width="1" height="1" fill="#fff" shape-rendering="crispEdges" />
<rect x="909" y="448" width="1" height="1" fill="#fff" shape-rendering="crispEdges" />
<text x="913.3" y="460" text-rendering="geometricPrecision" font-size="10" fill="#000" stroke="#000" stroke-width="0.22" textLength="42.51" lengthAdjust="spacingAndGlyphs" >0.0032288</text>
<rect x="910" y="541" width="2" height="1" fill="#000" shape-rendering="crispEdges" />
<text x="913.3" y="545" text-rendering="geometricPrecision" font-size="10" fill="#000" stroke="#000" stroke-width="0.22" textLength="17.66" lengthAdjust="spacingAndGlyphs" >0.00</text>
<text x="913.3" y="668" text-rendering="geometricPrecision" font-size="10" fill="#000" stroke="#000" stroke-width="0.22" textLength="45.81" lengthAdjust="spacingAndGlyphs" >-0.0045903</text>
<path d="M6.2 9.4 H13 L9.6 13 Z" fill="#000"/>
<text x="18.8" y="14" text-rendering="geometricPrecision" font-size="10" fill="#000" stroke="#000" stroke-width="0.22" textLength="53.8" lengthAdjust="spacingAndGlyphs" >USDCHF,H1</text>
<text x="79.3" y="14" text-rendering="geometricPrecision" font-size="10" fill="#000" stroke="#000" stroke-width="0.22" textLength="32.2" lengthAdjust="spacingAndGlyphs" >0.97499</text>
<text x="115.3" y="14" text-rendering="geometricPrecision" font-size="10" fill="#000" stroke="#000" stroke-width="0.22" textLength="32.2" lengthAdjust="spacingAndGlyphs" >0.97552</text>
<text x="151.3" y="14" text-rendering="geometricPrecision" font-size="10" fill="#000" stroke="#000" stroke-width="0.22" textLength="32.2" lengthAdjust="spacingAndGlyphs" >0.97478</text>
<text x="187.3" y="14" text-rendering="geometricPrecision" font-size="10" fill="#000" stroke="#000" stroke-width="0.22" textLength="32.2" lengthAdjust="spacingAndGlyphs" >0.97548</text>
<text x="8" y="462" text-rendering="geometricPrecision" font-size="10" fill="#000" stroke="#000" stroke-width="0.22" textLength="35.9" lengthAdjust="spacingAndGlyphs" >MACD-2</text>
<text x="47.4" y="462" text-rendering="geometricPrecision" font-size="10" fill="#000" stroke="#000" stroke-width="0.22" textLength="45.6" lengthAdjust="spacingAndGlyphs" >(50,150,25)</text>
<text x="97.2" y="462" text-rendering="geometricPrecision" font-size="10" fill="#000" stroke="#000" stroke-width="0.22" textLength="45.2" lengthAdjust="spacingAndGlyphs" >-0.0042046</text>
<text x="146.7" y="462" text-rendering="geometricPrecision" font-size="10" fill="#000" stroke="#000" stroke-width="0.22" textLength="42.2" lengthAdjust="spacingAndGlyphs" >0.0000000</text>
<text x="193.3" y="462" text-rendering="geometricPrecision" font-size="10" fill="#000" stroke="#000" stroke-width="0.22" textLength="43.5" lengthAdjust="spacingAndGlyphs" >-0.0001706</text>
<text x="242.2" y="462" text-rendering="geometricPrecision" font-size="10" fill="#000" stroke="#000" stroke-width="0.22" textLength="41.5" lengthAdjust="spacingAndGlyphs" >0.0012309</text>
<rect x="3" y="671" width="1" height="3" fill="#000" shape-rendering="crispEdges" />
<text x="2.6" y="683" text-rendering="geometricPrecision" font-size="10" fill="#000" stroke="#000" stroke-width="0.22" textLength="52.4" lengthAdjust="spacingAndGlyphs" >14 Aug 2019</text>
<rect x="67" y="671" width="1" height="3" fill="#000" shape-rendering="crispEdges" />
<text x="66.6" y="683" text-rendering="geometricPrecision" font-size="10" fill="#000" stroke="#000" stroke-width="0.22" textLength="54.7" lengthAdjust="spacingAndGlyphs" >15 Aug 10:00</text>
<rect x="131" y="671" width="1" height="3" fill="#000" shape-rendering="crispEdges" />
<text x="130.6" y="683" text-rendering="geometricPrecision" font-size="10" fill="#000" stroke="#000" stroke-width="0.22" textLength="54.7" lengthAdjust="spacingAndGlyphs" >16 Aug 02:00</text>
<rect x="195" y="671" width="1" height="3" fill="#000" shape-rendering="crispEdges" />
<text x="194.6" y="683" text-rendering="geometricPrecision" font-size="10" fill="#000" stroke="#000" stroke-width="0.22" textLength="54.7" lengthAdjust="spacingAndGlyphs" >16 Aug 18:00</text>
<rect x="259" y="671" width="1" height="3" fill="#000" shape-rendering="crispEdges" />
<text x="258.6" y="683" text-rendering="geometricPrecision" font-size="10" fill="#000" stroke="#000" stroke-width="0.22" textLength="54.7" lengthAdjust="spacingAndGlyphs" >19 Aug 10:00</text>
<rect x="323" y="671" width="1" height="3" fill="#000" shape-rendering="crispEdges" />
<text x="322.6" y="683" text-rendering="geometricPrecision" font-size="10" fill="#000" stroke="#000" stroke-width="0.22" textLength="54.7" lengthAdjust="spacingAndGlyphs" >20 Aug 02:00</text>
<rect x="387" y="671" width="1" height="3" fill="#000" shape-rendering="crispEdges" />
<text x="386.6" y="683" text-rendering="geometricPrecision" font-size="10" fill="#000" stroke="#000" stroke-width="0.22" textLength="54.7" lengthAdjust="spacingAndGlyphs" >20 Aug 18:00</text>
<rect x="451" y="671" width="1" height="3" fill="#000" shape-rendering="crispEdges" />
<text x="450.6" y="683" text-rendering="geometricPrecision" font-size="10" fill="#000" stroke="#000" stroke-width="0.22" textLength="54.7" lengthAdjust="spacingAndGlyphs" >21 Aug 10:00</text>
<rect x="515" y="671" width="1" height="3" fill="#000" shape-rendering="crispEdges" />
<text x="514.6" y="683" text-rendering="geometricPrecision" font-size="10" fill="#000" stroke="#000" stroke-width="0.22" textLength="54.7" lengthAdjust="spacingAndGlyphs" >22 Aug 02:00</text>
<rect x="579" y="671" width="1" height="3" fill="#000" shape-rendering="crispEdges" />
<text x="578.6" y="683" text-rendering="geometricPrecision" font-size="10" fill="#000" stroke="#000" stroke-width="0.22" textLength="54.7" lengthAdjust="spacingAndGlyphs" >22 Aug 18:00</text>
<rect x="643" y="671" width="1" height="3" fill="#000" shape-rendering="crispEdges" />
<text x="642.6" y="683" text-rendering="geometricPrecision" font-size="10" fill="#000" stroke="#000" stroke-width="0.22" textLength="54.7" lengthAdjust="spacingAndGlyphs" >23 Aug 10:00</text>
<rect x="707" y="671" width="1" height="3" fill="#000" shape-rendering="crispEdges" />
<text x="706.6" y="683" text-rendering="geometricPrecision" font-size="10" fill="#000" stroke="#000" stroke-width="0.22" textLength="54.7" lengthAdjust="spacingAndGlyphs" >26 Aug 02:00</text>
</svg></body></html>
